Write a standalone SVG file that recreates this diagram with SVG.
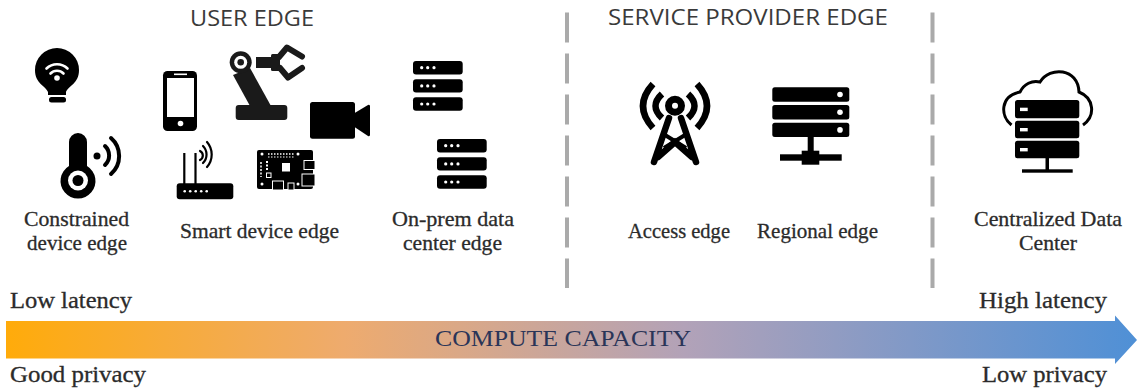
<svg xmlns="http://www.w3.org/2000/svg" width="1137" height="392" viewBox="0 0 1137 392">
<style>
.l{font-family:"Liberation Serif","Times New Roman",serif;font-size:21px;fill:#2b2b2b;stroke:#2b2b2b;stroke-width:.3px}
.b{font-size:23px}
.h{font-family:"Open Sans","Liberation Sans",sans-serif;font-size:21px;fill:#3a3a3a}
.k{fill:#000}
.w{fill:#fff}
.s{fill:none;stroke:#000;stroke-linecap:round}
.sb{fill:none;stroke:#000}
.sw{fill:none;stroke:#fff;stroke-linecap:round}
.d{fill:none;stroke:#aaa;stroke-width:4;stroke-dasharray:30 11}
</style>
<defs>
<linearGradient id="g" gradientUnits="userSpaceOnUse" x1="6" y1="0" x2="1137" y2="0">
<stop offset="0" stop-color="#ffab0a"/><stop offset=".3" stop-color="#eeab6e"/><stop offset=".6" stop-color="#b2a2b8"/><stop offset="1" stop-color="#4f90d6"/>
</linearGradient>
<g id="rack"><rect x="0" y="0" width="49.7" height="13.4" rx="3" class="k"/><rect x="0" y="18.2" width="49.7" height="13.4" rx="3" class="k"/><rect x="0" y="36.3" width="49.7" height="13.4" rx="3" class="k"/>
<g class="w"><circle cx="8.7" cy="6.7" r="1.6"/><circle cx="14.7" cy="6.7" r="1.6"/><circle cx="21" cy="6.7" r="1.6"/><circle cx="8.7" cy="24.9" r="1.6"/><circle cx="14.7" cy="24.9" r="1.6"/><circle cx="21" cy="24.9" r="1.6"/><circle cx="8.7" cy="43" r="1.6"/><circle cx="14.7" cy="43" r="1.6"/><circle cx="21" cy="43" r="1.6"/></g></g>
</defs>

<g id="connectors">
<path id="divider-1" class="d" d="M567 12.5V288"/>
<path id="divider-2" class="d" d="M932.5 12.5V288"/>
</g>

<g id="headings">
<text class="h" x="190" y="26" textLength="124" lengthAdjust="spacingAndGlyphs">USER EDGE</text>
<text class="h" x="608" y="25" textLength="280" lengthAdjust="spacingAndGlyphs">SERVICE PROVIDER EDGE</text>
</g>

<g id="bulb">
<path class="k" d="M48 92C46 86 35 84 35 70A22 22 0 0 1 79 70C79 84 68 86 66 92L66 95H48Z"/>
<rect x="49" y="97" width="17" height="5.5" rx="2.5" class="k"/>
<path class="sw" stroke-width="2.6" d="M46.5 68.5A15 15 0 0 1 67.5 68.5M50.5 73.5A9 9 0 0 1 63.5 73.5"/>
<circle cx="57" cy="78" r="2.8" class="w"/>
</g>

<g id="thermometer">
<path class="k" d="M69 166V142A9 9 0 0 1 87 142V166A17.5 17.5 0 1 1 69 166Z"/>
<circle cx="78" cy="180.5" r="10" class="w"/>
<circle cx="78" cy="180.5" r="5.5" class="k"/>
<circle cx="97" cy="156" r="3.5" class="k"/>
<path class="s" stroke-width="4" d="M105 146A13 13 0 0 1 105 165M111 138A24 24 0 0 1 111 174"/>
</g>

<g id="phone">
<rect x="163" y="71" width="34" height="60" rx="4.5" class="k"/>
<rect x="167" y="78" width="27" height="39" class="w"/>
<rect x="174" y="73.5" width="13" height="1.6" class="w"/>
<circle cx="180.5" cy="123.5" r="2.8" class="w"/>
</g>

<g id="robot">
<rect x="235.700" y="105" width="51.6" height="15" rx="3" fill="#1a1a1a"/>
<path fill="#1a1a1a" d="M233 75L250 68L271 106H250Z"/>
<circle cx="240.7" cy="62.3" r="11" fill="#1a1a1a"/>
<circle cx="240.7" cy="62.3" r="6.5" class="w"/>
<circle cx="240.7" cy="62.3" r="3.3" fill="#1a1a1a"/>
<rect x="256" y="57" width="17" height="11" fill="#1a1a1a"/>
<rect x="271" y="54" width="9" height="17" rx="1.5" fill="#1a1a1a"/>
<path fill="none" stroke="#1a1a1a" stroke-width="6" stroke-linecap="round" stroke-linejoin="round" d="M279 57L287 47.500L302 56.500M280 68L288 77.500L302 68"/>
</g>

<g id="camera">
<rect x="310" y="102" width="45" height="36.7" rx="2.5" class="k"/>
<path class="k" d="M353 114L368 105A1.5 1.5 0 0 1 370 106V135A1.5 1.5 0 0 1 368 136L353 126Z"/>
</g>

<g id="router">
<path class="sb" stroke-width="2.2" d="M184.3 153V184M195.5 153V184"/>
<rect x="176.700" y="183.3" width="56.6" height="16" rx="3" class="k"/>
<g class="w"><circle cx="184.7" cy="191.3" r="1.3"/><circle cx="190.2" cy="191.3" r="1.3"/><circle cx="195.7" cy="191.3" r="1.3"/><circle cx="201.2" cy="191.3" r="1.3"/><circle cx="206.7" cy="191.3" r="1.3"/></g>
<path class="s" stroke-width="2.2" d="M200 151A5 5 0 0 1 200 160M203 146A12 12 0 0 1 203 163M207 142A19 19 0 0 1 207 167"/>
</g>

<g id="board">
<path class="k" d="M259 150H311Q313 150 313 152V187Q313 189 311 189H259Q257 189 257 187V152Q257 150 259 150Z"/>
<rect x="304" y="160.5" width="11" height="9" fill="#000" stroke="#fff" stroke-width="1"/>
<rect x="302" y="174" width="13" height="12" fill="#000" stroke="#fff" stroke-width="1"/>
<rect x="272.500" y="181" width="11" height="9" fill="#000" stroke="#fff" stroke-width="1"/>
<rect x="288" y="183" width="6" height="7" fill="#000" stroke="#fff" stroke-width="1"/>
<rect x="282" y="163" width="8" height="8.5" class="w"/>
<path d="M268 154H294" stroke="#fff" stroke-width="1.5" stroke-dasharray="1.5 1.5"/>
<path d="M268 157H294" stroke="#fff" stroke-width="1" stroke-dasharray="1.5 1.5"/>
<path d="M261 162V177" stroke="#fff" stroke-width="1.5" stroke-dasharray="2 1.5"/>
<path d="M267 161V170" stroke="#fff" stroke-width="2" stroke-dasharray="2 1.5"/>
<rect x="266.500" y="173" width="4.5" height="4.5" fill="none" stroke="#fff"/>
<g class="w"><circle cx="262" cy="154" r="1.5"/><circle cx="262" cy="184" r="1.5"/><circle cx="298" cy="154" r="1.5"/><circle cx="298" cy="184" r="1.5"/></g>
</g>

<g id="onprem-1"><use href="#rack" x="413" y="61"/></g>
<g id="onprem-2"><use href="#rack" x="437" y="139"/></g>

<g id="tower">
<path class="sb" stroke-width="6.5" stroke-linecap="round" d="M669 118L654 162M681 118L696 162M658 157L675 142L692 157"/>
<path class="sb" stroke-width="4" d="M665 135L686 148M685 135L664 148"/>
<circle cx="675" cy="105.7" r="6.500" fill="#fff" stroke="#000" stroke-width="7"/>
<path class="sb" stroke-width="6.5" d="M653 84Q633 106 653 128M662 94Q649 106 662 118M697 84Q717 106 697 128M688 94Q701 106 688 118"/>
</g>

<g id="regional">
<rect x="772.300" y="87.3" width="77" height="14.4" rx="2.5" class="k"/>
<rect x="772.300" y="105" width="77" height="14.4" rx="2.5" class="k"/>
<rect x="772.300" y="122.7" width="77" height="14.4" rx="2.5" class="k"/>
<g class="w"><circle cx="840" cy="94.5" r="2.8"/><circle cx="840" cy="112.2" r="2.8"/><circle cx="840" cy="129.9" r="2.8"/></g>
<rect x="807.700" y="136" width="6" height="16" class="k"/>
<rect x="780" y="154.3" width="61.7" height="6.4" class="k"/>
<rect x="801.700" y="150.7" width="17.6" height="14" class="k"/>
</g>

<g id="datacenter">
<path class="sb" stroke-width="3" d="M1011.5 125C1000 116 1000 96 1020 92C1024 84 1032 80 1040 82C1050 66 1078 68 1079 92C1094 98 1096 116 1083 125"/>
<rect x="1015" y="100" width="64.3" height="18.3" rx="2.5" class="k"/>
<rect x="1015" y="120.7" width="64.3" height="17.6" rx="2.5" class="k"/>
<rect x="1015" y="140.7" width="64.3" height="17.6" rx="2.5" class="k"/>
<g class="w"><rect x="1020" y="107.7" width="7.7" height="3.4"/><rect x="1020" y="128" width="7.7" height="3.4"/><rect x="1020" y="148" width="7.7" height="3.4"/></g>
<rect x="1045.500" y="158" width="3.5" height="12" class="k"/>
<rect x="1022" y="169.3" width="50.7" height="3.4" class="k"/>
</g>

<g id="labels">
<text class="l" x="24" y="226" textLength="105" lengthAdjust="spacingAndGlyphs">Constrained</text>
<text class="l" x="27" y="250" textLength="100" lengthAdjust="spacingAndGlyphs">device edge</text>
<text class="l" x="180" y="238" textLength="159" lengthAdjust="spacingAndGlyphs">Smart device edge</text>
<text class="l" x="392" y="226" textLength="122" lengthAdjust="spacingAndGlyphs">On-prem data</text>
<text class="l" x="403" y="250" textLength="99" lengthAdjust="spacingAndGlyphs">center edge</text>
<text class="l" x="628" y="238" textLength="102" lengthAdjust="spacingAndGlyphs">Access edge</text>
<text class="l" x="757" y="238" textLength="121" lengthAdjust="spacingAndGlyphs">Regional edge</text>
<text class="l" x="974" y="226" textLength="148" lengthAdjust="spacingAndGlyphs">Centralized Data</text>
<text class="l" x="1019" y="250" textLength="58" lengthAdjust="spacingAndGlyphs">Center</text>
<text class="l b" x="10" y="308" textLength="122" lengthAdjust="spacingAndGlyphs">Low latency</text>
<text class="l b" x="979" y="308" textLength="128" lengthAdjust="spacingAndGlyphs">High latency</text>
<text class="l b" x="10" y="382" textLength="136" lengthAdjust="spacingAndGlyphs">Good privacy</text>
<text class="l b" x="982" y="382" textLength="125" lengthAdjust="spacingAndGlyphs">Low privacy</text>
</g>

<g id="capacity-arrow">
<path fill="url(#g)" d="M6 321H1115V315.500L1137 340L1115 364V358.500H6Z"/>
<text x="435" y="346" textLength="256" lengthAdjust="spacingAndGlyphs" style="font-family:'Liberation Serif',serif;font-size:23px;fill:#2a3558">COMPUTE CAPACITY</text>
</g>
</svg>
